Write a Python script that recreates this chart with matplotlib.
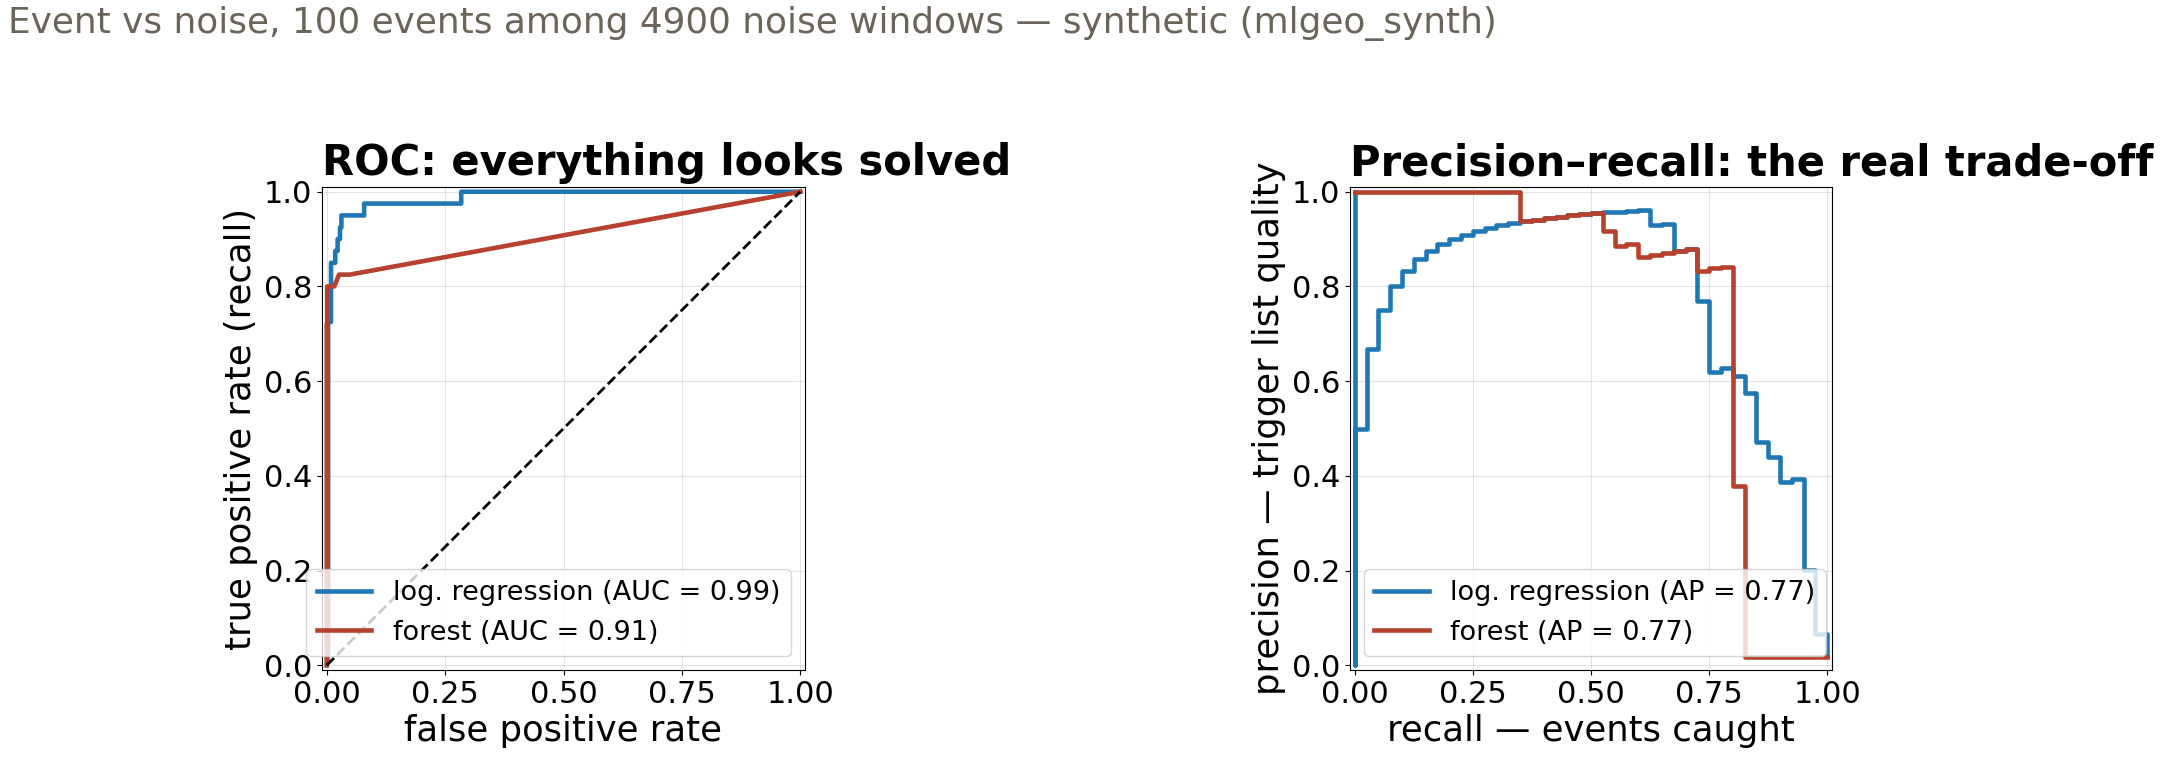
import matplotlib
matplotlib.use("Agg")
import matplotlib.pyplot as plt

# ---------------- data ----------------
suptitle_text = "Event vs noise, 100 events among 4900 noise windows \u2014 synthetic (mlgeo_synth)"

model_names = ["log. regression", "forest"]
roc_auc = [0.99, 0.91]
pr_ap = [0.77, 0.77]

# ROC curves (false positive rate, true positive rate)
lr_fpr = [0.0, 0.003, 0.003, 0.009, 0.009, 0.018, 0.018, 0.023, 0.023, 0.028, 0.028,
          0.031, 0.031, 0.079, 0.079, 0.284, 0.284, 1.0]
lr_tpr = [0.0, 0.025, 0.725, 0.725, 0.85, 0.85, 0.875, 0.875, 0.90, 0.90, 0.925,
          0.925, 0.95, 0.95, 0.975, 0.975, 1.0, 1.0]

rf_fpr = [0.0, 0.0, 0.001, 0.001, 0.016, 0.026, 0.049, 1.0]
rf_tpr = [0.0, 0.72, 0.72, 0.80, 0.80, 0.825, 0.825, 1.0]

chance_x = [0.0, 1.0]
chance_y = [0.0, 1.0]

# Precision-recall curves (recall ascending, precision level ending at that recall)
lr_recall = [0.0, 0.0, 0.025, 0.05, 0.075, 0.1, 0.125, 0.15, 0.175, 0.2, 0.225, 0.25,
             0.275, 0.3, 0.325, 0.35, 0.375, 0.4, 0.425, 0.45, 0.475, 0.5, 0.525,
             0.55, 0.575, 0.6, 0.625, 0.65, 0.675, 0.7, 0.725, 0.75, 0.775, 0.8,
             0.825, 0.85, 0.875, 0.9, 0.925, 0.95, 0.975, 1.0, 1.0]
lr_precision = [1.0, 0.0, 0.5, 0.667, 0.75, 0.8, 0.833, 0.857, 0.875, 0.889, 0.9, 0.909,
                0.917, 0.923, 0.929, 0.933, 0.938, 0.941, 0.944, 0.947, 0.95, 0.952, 0.955,
                0.957, 0.958, 0.96, 0.962, 0.929, 0.931, 0.875, 0.879, 0.769, 0.62, 0.627,
                0.611, 0.576, 0.472, 0.439, 0.388, 0.394, 0.201, 0.067, 0.02]

rf_recall = [0.0, 0.35, 0.375, 0.4, 0.425, 0.45, 0.475, 0.5, 0.525, 0.55, 0.575, 0.6,
             0.625, 0.65, 0.675, 0.7, 0.725, 0.75, 0.775, 0.8, 0.825, 1.0]
rf_precision = [1.0, 1.0, 0.938, 0.941, 0.944, 0.947, 0.95, 0.952, 0.955, 0.917, 0.885,
                0.889, 0.862, 0.867, 0.871, 0.875, 0.879, 0.833, 0.838, 0.842, 0.379, 0.018]

x_ticks = [0.0, 0.25, 0.5, 0.75, 1.0]
x_ticklabels = ["0.00", "0.25", "0.50", "0.75", "1.00"]
y_ticks = [0.0, 0.2, 0.4, 0.6, 0.8, 1.0]
y_ticklabels = ["0.0", "0.2", "0.4", "0.6", "0.8", "1.0"]

# ---------------- style ----------------
BLUE = "#1f77b4"
RED = "#b5412e"
LW = 3.3
W, H = 2161, 763

fig = plt.figure(figsize=(W / 100, H / 100), dpi=100)
fig.patch.set_facecolor("white")

ax1 = fig.add_axes([322 / W, 93 / H, 483 / W, 483 / H])
ax2 = fig.add_axes([1350 / W, 93 / H, 482 / W, 483 / H])

# ROC
ax1.plot(lr_fpr, lr_tpr, color=BLUE, lw=LW,
         label=f"{model_names[0]} (AUC = {roc_auc[0]:.2f})")
ax1.plot(rf_fpr, rf_tpr, color=RED, lw=LW,
         label=f"{model_names[1]} (AUC = {roc_auc[1]:.2f})")
ax1.plot(chance_x, chance_y, "k--", lw=2)
ax1.set_title("ROC: everything looks solved", loc="left", fontsize=30,
              fontweight="bold", pad=8.6)
ax1.set_xlabel("false positive rate", fontsize=25.5)
ax1.set_ylabel("true positive rate (recall)", fontsize=25.5)
ax1.legend(loc="lower right", fontsize=19.5)

# PR
ax2.plot(lr_recall, lr_precision, color=BLUE, lw=LW, drawstyle="steps-pre",
         label=f"{model_names[0]} (AP = {pr_ap[0]:.2f})")
ax2.plot(rf_recall, rf_precision, color=RED, lw=LW, drawstyle="steps-pre",
         label=f"{model_names[1]} (AP = {pr_ap[1]:.2f})")
ax2.set_title("Precision\u2013recall: the real trade-off", loc="left", fontsize=30,
              fontweight="bold", pad=8.6)
ax2.set_xlabel("recall \u2014 events caught", fontsize=25.5)
ax2.set_ylabel("precision \u2014 trigger list quality", fontsize=25.5)
ax2.legend(loc="lower left", fontsize=19.5)

for ax in (ax1, ax2):
    ax.set_xlim(-0.01, 1.01)
    ax.set_ylim(-0.01, 1.01)
    ax.set_xticks(x_ticks)
    ax.set_xticklabels(x_ticklabels)
    ax.set_yticks(y_ticks)
    ax.set_yticklabels(y_ticklabels)
    ax.tick_params(labelsize=22)
    ax.grid(True, alpha=0.35)

fig.text(8 / W, 1 - 33 / H, suptitle_text, fontsize=25.8, color="#6b6459",
         ha="left", va="baseline")

fig.savefig("out.png", dpi=100)
